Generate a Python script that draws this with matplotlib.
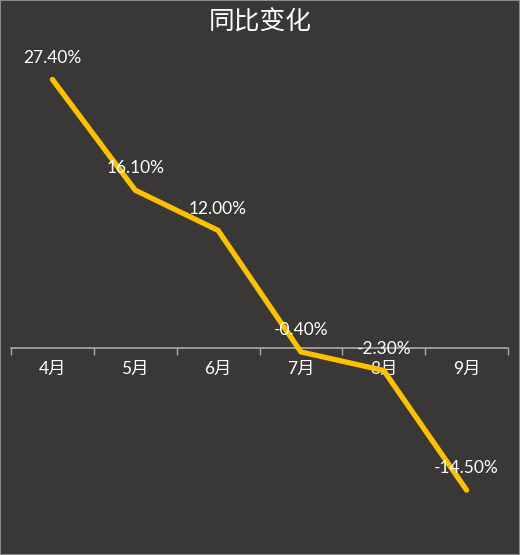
import numpy as np
import matplotlib.pyplot as plt

months = ["4月", "5月", "6月", "7月", "8月", "9月"]
yoy = [27.4, 16.1, 12.0, -0.4, -2.3, -14.5]
labels = ["27.40%", "16.10%", "12.00%", "-0.40%", "-2.30%", "-14.50%"]

BG = "#3a3836"
LINE = "#ffc000"
FONTS = ["Lato", "Noto Sans CJK SC", "DejaVu Sans"]
plt.rcParams["font.family"] = FONTS

W, H = 520, 555
fig = plt.figure(figsize=(W / 100, H / 100), dpi=100, facecolor=BG)
# axes spans pixels x 11..508, y 60..520 (from top)
ax = fig.add_axes([11 / W, (H - 520) / H, (508 - 11) / W, (520 - 60) / H])
ax.set_facecolor(BG)

x = np.arange(len(months))
ax.plot(x, yoy, color=LINE, lw=3.8, solid_capstyle="round", solid_joinstyle="miter", zorder=3)
for xi, yi, lab in zip(x, yoy, labels):
    ax.annotate(lab, (xi, yi), xytext=(0, 10), textcoords="offset points",
                ha="center", va="bottom", color="white", fontsize=12.5, zorder=4)

ax.set_xlim(-0.5, len(months) - 0.5)
ax.set_ylim((348 - 520) / 9.8, (348 - 60) / 9.8)

for s in ["top", "right", "left"]:
    ax.spines[s].set_visible(False)
ax.spines["bottom"].set_position(("data", 0))
ax.spines["bottom"].set_color("#a9a9a9")
ax.spines["bottom"].set_linewidth(1.2)
ax.set_yticks([])

ax.set_xticks(x)
ax.set_xticklabels(months, color="white", fontsize=12.5)
ax.tick_params(axis="x", which="major", length=0, pad=9)
ax.set_xticks(np.arange(-0.5, len(months)), minor=True)
ax.tick_params(axis="x", which="minor", length=5, width=1, color="#a9a9a9", direction="out")

fig.text(0.5, 1 - 22 / H, "同比变化", ha="center", va="center", color="white", fontsize=18.5)

# thin outer border
fig.patches.append(plt.Rectangle((0, 0), 1, 1, transform=fig.transFigure, fill=False,
                                 edgecolor="#8a8a8a", lw=1.5))

fig.savefig("out.png", dpi=100, facecolor=BG)
